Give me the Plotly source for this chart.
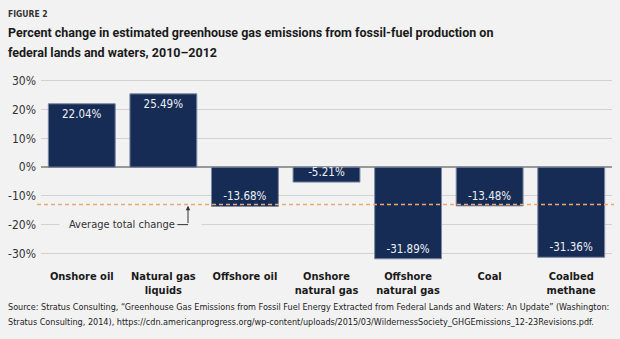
import plotly.graph_objects as go

categories = ["Onshore oil", "Natural gas<br>liquids", "Offshore oil", "Onshore<br>natural gas",
              "Offshore<br>natural gas", "Coal", "Coalbed<br>methane"]
values = [22.04, 25.49, -13.68, -5.21, -31.89, -13.48, -31.36]
average_change = -13.0
y_ticks = [-30, -20, -10, 0, 10, 20, 30]
y_ticktext = ["-30%", "-20%", "-10%", "0%", "10%", "20%", "30%"]

BG = "#f2f2f2"
FONT = "DejaVu Sans Condensed, Roboto, sans-serif"
TFONT = "Roboto, DejaVu Sans Condensed, sans-serif"

W, H = 620, 339
ml, mr, mt, mb = 41, 8, 78, 77
PW, PH = W - ml - mr, H - mt - mb

def px(xp):
    return (xp - ml) / PW

def py(yp):
    return (H - mb - yp) / PH

def px_to_x(xp):
    return (xp - ml) / (PW / len(categories)) - 0.5

fig = go.Figure()
fig.add_trace(go.Bar(
    x=categories, y=values,
    marker=dict(color="#172c55", line=dict(color="#7d89a3", width=1)),
    text=[f"{v:.2f}%" for v in values],
    textposition="inside", insidetextanchor="end", constraintext="none",
    textfont=dict(color="#eef0f5", size=11.5, family=FONT),
    cliponaxis=False,
))

fig.update_layout(
    width=W, height=H,
    margin=dict(l=ml, r=mr, t=mt, b=mb, pad=0),
    paper_bgcolor=BG, plot_bgcolor=BG,
    bargap=0.18, showlegend=False,
    xaxis=dict(showgrid=False, ticks="", showline=False, ticklabelstandoff=6,
               tickfont=dict(family=FONT, size=11, color="#1a1a1a", weight="bold")),
    yaxis=dict(range=[-33, 31], tickvals=y_ticks, ticktext=y_ticktext,
               showgrid=True, gridcolor="#d2d2d2", gridwidth=1,
               zeroline=True, zerolinecolor="#999999", zerolinewidth=1.5,
               tickfont=dict(family=FONT, size=12, color="#333333"), ticks="",
               ticklabelstandoff=4),
)

# average line
fig.add_shape(type="line", xref="paper", yref="y", x0=px(37), x1=px(614),
              y0=average_change, y1=average_change,
              line=dict(color="#eea673", width=1.5, dash="4px,3px"), layer="above")

# masks for gridline behind label and connector
fig.add_annotation(x=px_to_x(117.5), y=-20, xref="x", yref="y", text=" ", showarrow=False,
                   bgcolor=BG, width=115, height=8, borderpad=0)
fig.add_annotation(x=px_to_x(195), y=-20, xref="x", yref="y", text=" ", showarrow=False,
                   bgcolor=BG, width=12, height=6, borderpad=0)
fig.add_annotation(x=px_to_x(67), y=-20, xref="x", yref="y", xanchor="left",
                   text="Average total change", showarrow=False,
                   font=dict(family=FONT, size=11, color="#333333"))
# connector (drawn as annotation arrows so it stays above the masks)
x_a, x_b = px_to_x(176), px_to_x(188)
fig.add_annotation(x=x_b, y=-20, ax=x_a, ay=-20,
                   xref="x", yref="y", axref="x", ayref="y", text="",
                   showarrow=True, arrowhead=0, arrowwidth=1, arrowcolor="#333333")
fig.add_annotation(x=x_b, y=average_change - 0.4, ax=x_b, ay=-20,
                   xref="x", yref="y", axref="x", ayref="y", text="",
                   showarrow=True, arrowhead=2, arrowsize=0.9, arrowwidth=1, arrowcolor="#333333")

# titles
def label(xp, yp, text, size, color, weight="normal", family=FONT):
    fig.add_annotation(x=px(xp), y=py(yp), xref="paper", yref="paper", xanchor="left", yanchor="middle",
                       text=text, showarrow=False,
                       font=dict(family=family, size=size, color=color, weight=weight))

label(6, 14, "FIGURE 2", 8.5, "#333333", "bold")
label(6, 32, "Percent change in estimated greenhouse gas emissions from fossil-fuel production on", 12.5, "#1a1a1a", "bold", TFONT)
label(6, 52, "federal lands and waters, 2010\u20132012", 12.5, "#1a1a1a", "bold", TFONT)
label(6, 307, "Source: Stratus Consulting, \u201cGreenhouse Gas Emissions from Fossil Fuel Energy Extracted from Federal Lands and Waters: An Update\u201d (Washington:", 9, "#222222")
label(6, 322, "Stratus Consulting, 2014), https://cdn.americanprogress.org/wp-content/uploads/2015/03/WildernessSociety_GHGEmissions_12-23Revisions.pdf.", 9, "#222222")

fig.write_html("out.html")
